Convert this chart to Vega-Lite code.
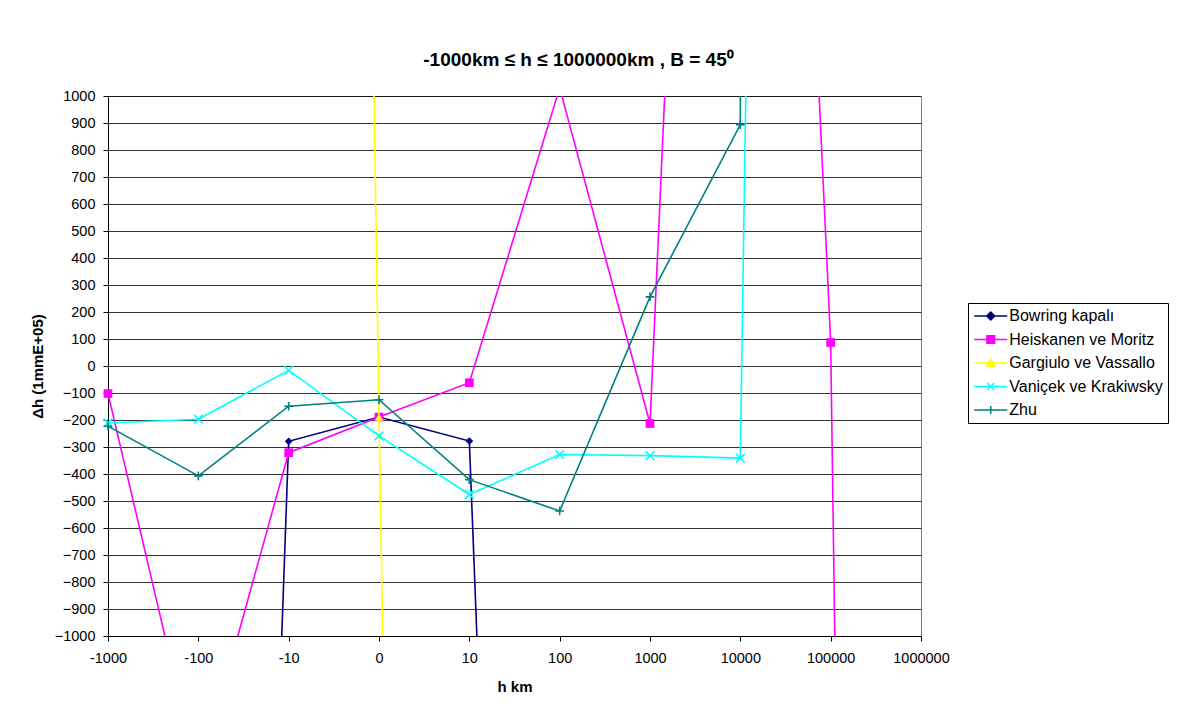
{
  "$schema": "https://vega.github.io/schema/vega-lite/v6.json",
  "width": 813,
  "height": 540,
  "autosize": {"type": "none"},
  "padding": {"left": 108, "top": 96, "right": 259, "bottom": 86},
  "background": "white",
  "title": {
    "text": "-1000km ≤ h ≤ 1000000km , B = 45⁰",
    "anchor": "middle",
    "frame": "group",
    "dx": 64,
    "offset": 18,
    "font": "Liberation Sans",
    "fontSize": 19,
    "fontWeight": "bold",
    "color": "black"
  },
  "data": {
    "values": [
      {"series": "Bowring kapalı", "h": "-100", "dh": -9700},
      {"series": "Bowring kapalı", "h": "-10", "dh": -279},
      {"series": "Bowring kapalı", "h": "0", "dh": -189},
      {"series": "Bowring kapalı", "h": "10", "dh": -278},
      {"series": "Bowring kapalı", "h": "100", "dh": -8900},

      {"series": "Heiskanen ve Moritz", "h": "-1000", "dh": -102},
      {"series": "Heiskanen ve Moritz", "h": "-100", "dh": -1527},
      {"series": "Heiskanen ve Moritz", "h": "-10", "dh": -321},
      {"series": "Heiskanen ve Moritz", "h": "0", "dh": -189},
      {"series": "Heiskanen ve Moritz", "h": "10", "dh": -62},
      {"series": "Heiskanen ve Moritz", "h": "100", "dh": 1030},
      {"series": "Heiskanen ve Moritz", "h": "1000", "dh": -213},
      {"series": "Heiskanen ve Moritz", "h": "10000", "dh": 7250},
      {"series": "Heiskanen ve Moritz", "h": "100000", "dh": 87},
      {"series": "Heiskanen ve Moritz", "h": "1000000", "dh": -23700},

      {"series": "Gargiulo ve Vassallo", "h": "-10", "dh": 21500},
      {"series": "Gargiulo ve Vassallo", "h": "0", "dh": -189},
      {"series": "Gargiulo ve Vassallo", "h": "10", "dh": -20000},

      {"series": "Vaniçek ve Krakiwsky", "h": "-1000", "dh": -211},
      {"series": "Vaniçek ve Krakiwsky", "h": "-100", "dh": -197},
      {"series": "Vaniçek ve Krakiwsky", "h": "-10", "dh": -16},
      {"series": "Vaniçek ve Krakiwsky", "h": "0", "dh": -259},
      {"series": "Vaniçek ve Krakiwsky", "h": "10", "dh": -476},
      {"series": "Vaniçek ve Krakiwsky", "h": "100", "dh": -328},
      {"series": "Vaniçek ve Krakiwsky", "h": "1000", "dh": -332},
      {"series": "Vaniçek ve Krakiwsky", "h": "10000", "dh": -341},
      {"series": "Vaniçek ve Krakiwsky", "h": "100000", "dh": 22000},

      {"series": "Zhu", "h": "-1000", "dh": -223},
      {"series": "Zhu", "h": "-100", "dh": -407},
      {"series": "Zhu", "h": "-10", "dh": -149},
      {"series": "Zhu", "h": "0", "dh": -125},
      {"series": "Zhu", "h": "10", "dh": -421},
      {"series": "Zhu", "h": "100", "dh": -537},
      {"series": "Zhu", "h": "1000", "dh": 256},
      {"series": "Zhu", "h": "10000", "dh": 894},
      {"series": "Zhu", "h": "100000", "dh": 300000}
    ]
  },
  "encoding": {
    "x": {
      "field": "h",
      "type": "ordinal",
      "title": "h km",
      "scale": {
        "type": "point",
        "padding": 0,
        "domain": ["-1000", "-100", "-10", "0", "10", "100", "1000", "10000", "100000", "1000000"]
      },
      "axis": {
        "labelAngle": 0,
        "grid": false,
        "ticks": true,
        "tickSize": 5,
        "labelPadding": 10,
        "titleX": 406.5,
        "titleY": 50,
        "titleAlign": "center",
        "titleBaseline": "middle"
      }
    },
    "y": {
      "field": "dh",
      "type": "quantitative",
      "title": "Δh (1mmE+05)",
      "scale": {"domain": [-1000, 1000], "nice": false, "zero": false},
      "axis": {
        "values": [-1000, -900, -800, -700, -600, -500, -400, -300, -200, -100, 0, 100, 200, 300, 400, 500, 600, 700, 800, 900, 1000],
        "format": "d",
        "grid": true,
        "tickSize": 5,
        "labelPadding": 8,
        "titleX": -71,
        "titleY": 270,
        "titleAlign": "center",
        "titleBaseline": "middle"
      }
    }
  },
  "layer": [
    {
      "transform": [{"filter": "datum.series === 'Bowring kapalı'"}],
      "layer": [
        {"mark": {"type": "line", "color": "#000080", "strokeWidth": 1.6, "clip": true}},
        {"transform": [{"filter": "abs(datum.dh) <= 1000"}],
         "mark": {"type": "point", "shape": "diamond", "size": 60, "filled": true, "color": "#000080", "opacity": 1}}
      ]
    },
    {
      "transform": [{"filter": "datum.series === 'Heiskanen ve Moritz'"}],
      "layer": [
        {"mark": {"type": "line", "color": "#FF00FF", "strokeWidth": 1.6, "clip": true}},
        {"transform": [{"filter": "abs(datum.dh) <= 1000"}],
         "mark": {"type": "point", "shape": "square", "size": 75, "filled": true, "color": "#FF00FF", "opacity": 1}}
      ]
    },
    {
      "transform": [{"filter": "datum.series === 'Gargiulo ve Vassallo'"}],
      "layer": [
        {"mark": {"type": "line", "color": "#FFFF00", "strokeWidth": 1.6, "clip": true}},
        {"transform": [{"filter": "abs(datum.dh) <= 1000"}],
         "mark": {"type": "point", "shape": "triangle-up", "size": 70, "filled": true, "color": "#FFFF00", "opacity": 1}}
      ]
    },
    {
      "transform": [{"filter": "datum.series === 'Vaniçek ve Krakiwsky'"}],
      "layer": [
        {"mark": {"type": "line", "color": "#00FFFF", "strokeWidth": 1.6, "clip": true}},
        {"transform": [{"filter": "abs(datum.dh) <= 1000"}],
         "mark": {"type": "point", "shape": "M-1,-1L1,1M-1,1L1,-1", "size": 75, "filled": false, "color": "#00FFFF", "strokeWidth": 1.6, "opacity": 1}}
      ]
    },
    {
      "transform": [{"filter": "datum.series === 'Zhu'"}],
      "layer": [
        {"mark": {"type": "line", "color": "#008080", "strokeWidth": 1.6, "clip": true}},
        {"transform": [{"filter": "abs(datum.dh) <= 1000"}],
         "mark": {"type": "point", "shape": "M-1,0L1,0M0,-1L0,1", "size": 75, "filled": false, "color": "#008080", "strokeWidth": 1.6, "opacity": 1}}
      ]
    },
    {
      "mark": {"type": "point", "filled": true, "opacity": 0, "clip": true},
      "encoding": {
        "fill": {
          "field": "series", "type": "nominal", "title": null,
          "scale": {
            "domain": ["Bowring kapalı", "Heiskanen ve Moritz", "Gargiulo ve Vassallo", "Vaniçek ve Krakiwsky", "Zhu"],
            "range": ["#000080", "#FF00FF", "#FFFF00", "#00FFFF", "#008080"]
          },
          "legend": {"encode": {"symbols": {"update": {"fill": {"scale": "stroke", "field": "value"}, "fillOpacity": {"value": 1}}}}}
        },
        "stroke": {
          "field": "series", "type": "nominal", "title": null,
          "scale": {
            "domain": ["Bowring kapalı", "Heiskanen ve Moritz", "Gargiulo ve Vassallo", "Vaniçek ve Krakiwsky", "Zhu"],
            "range": ["#000080", "#FF00FF", "#FFFF00", "#00FFFF", "#008080"]
          },
          "legend": {"encode": {"symbols": {"update": {"fill": {"scale": "stroke", "field": "value"}, "fillOpacity": {"value": 1}}}}}
        },
        "shape": {
          "field": "series", "type": "nominal", "title": null,
          "scale": {
            "domain": ["Bowring kapalı", "Heiskanen ve Moritz", "Gargiulo ve Vassallo", "Vaniçek ve Krakiwsky", "Zhu"],
            "range": [
              "M-2.75,0L2.75,0M0,-0.67L0.67,0L0,0.67L-0.67,0Z",
              "M-2.75,0L2.75,0M-0.64,-0.64L0.64,-0.64L0.64,0.64L-0.64,0.64Z",
              "M-2.75,0L2.75,0M0,-0.67L0.7,0.55L-0.7,0.55Z",
              "M-2.75,0L2.75,0M-0.58,-0.58L0.58,0.58M-0.58,0.58L0.58,-0.58",
              "M-2.75,0L2.75,0M0,-0.67L0,0.67"
            ]
          },
          "legend": {"encode": {"symbols": {"update": {"fill": {"scale": "stroke", "field": "value"}, "fillOpacity": {"value": 1}}}}}
        }
      }
    }
  ],
  "config": {
    "font": "Liberation Sans",
    "view": {"stroke": "#808080", "strokeWidth": 1},
    "axis": {
      "labelFont": "Liberation Sans",
      "labelFontSize": 14.5,
      "labelColor": "black",
      "titleFont": "Liberation Sans",
      "titleFontSize": 15,
      "titleFontWeight": "bold",
      "titleColor": "black",
      "domainColor": "black",
      "domainWidth": 1,
      "tickColor": "black",
      "tickWidth": 1,
      "gridColor": "#000000",
      "gridOpacity": 0.8,
      "gridWidth": 1
    },
    "legend": {
      "orient": "none",
      "legendX": 860,
      "legendY": 207,
      "padding": 5,
      "strokeColor": "black",
      "strokeWidth": 1,
      "fillColor": "white",
      "symbolSize": 144,
      "symbolStrokeWidth": 1.5,
      "symbolOffset": 9.75,
      "labelOffset": 10.5,
      "rowPadding": 7.5,
      "labelFont": "Liberation Sans",
      "labelFontSize": 16,
      "labelColor": "black",
      "labelLimit": 0
    }
  }
}
